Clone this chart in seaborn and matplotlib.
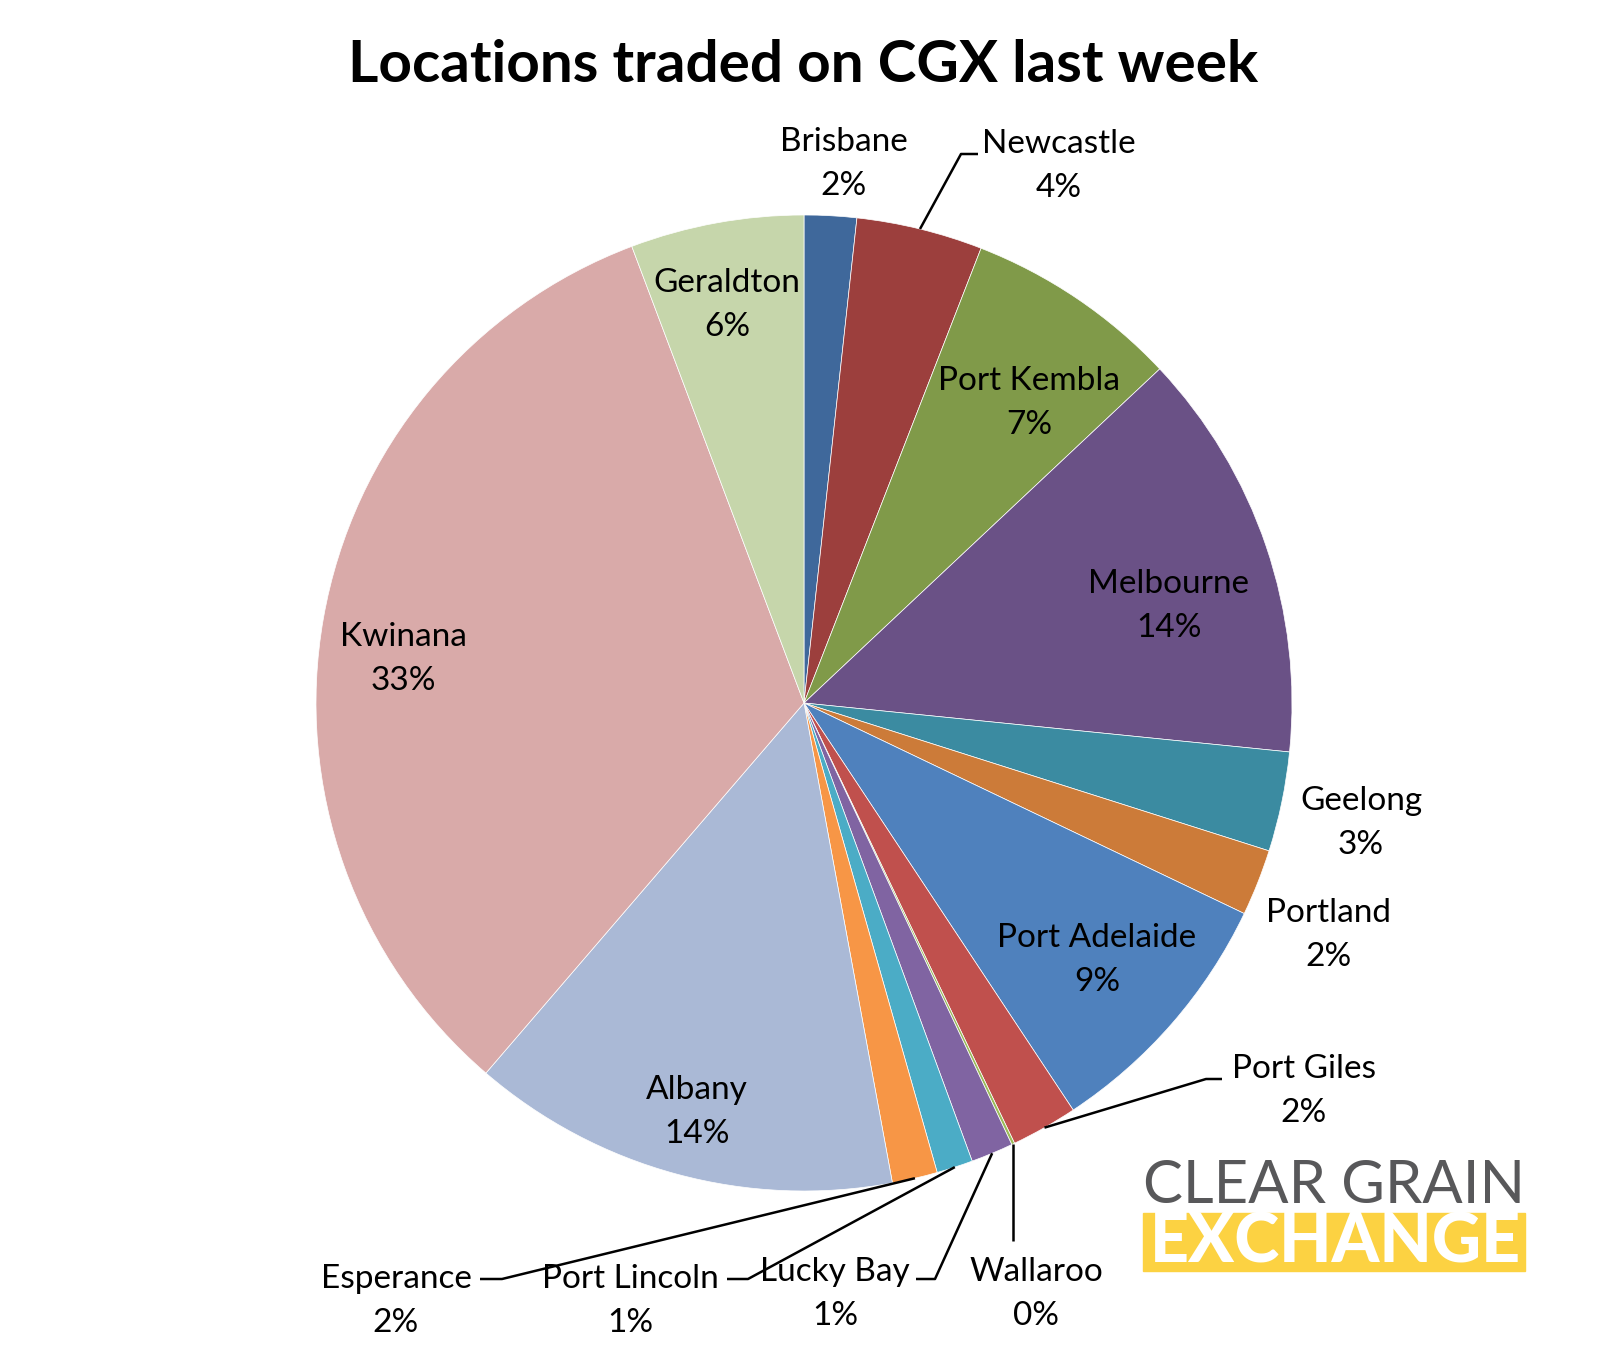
import matplotlib
matplotlib.use("Agg")
import numpy as np
import matplotlib.pyplot as plt
import seaborn as sns

# data (share of trades, %)
locations = ["Brisbane", "Newcastle", "Port Kembla", "Melbourne", "Geelong",
             "Portland", "Port Adelaide", "Port Giles", "Wallaroo", "Lucky Bay",
             "Port Lincoln", "Esperance", "Albany", "Kwinana", "Geraldton"]
shares = [1.73, 4.18, 7.09, 13.6, 3.3, 2.2, 8.6, 2.2, 0.1, 1.4, 1.2, 1.5, 14.2, 32.96, 5.74]
colors = ["#3F689B", "#9C3F3D", "#809A49", "#6A5186", "#3B8BA1", "#CC7B39",
          "#4F81BD", "#C0504D", "#9BBB59", "#8064A2", "#4BACC6", "#F79646",
          "#AAB9D6", "#D9AAA9", "#C6D6AB"]

# label centres in pixels (y down)
label_xy = [(844, 164), (1059, 166), (1029, 403), (1169, 606), (1361, 823),
            (1329, 935), (1097, 960), (1304, 1091), (1036, 1294), (835, 1294),
            (630, 1301), (396, 1301), (697, 1112), (403, 659), (727, 305)]
# leader line bends for the small slices
leaders = {"Newcastle": [(961, 154), (978, 154)],
           "Port Giles": [(1206, 1079), (1222, 1079)],
           "Wallaroo": [(1013, 1241)],
           "Lucky Bay": [(935, 1279), (916, 1279)],
           "Port Lincoln": [(748, 1279), (727, 1279)],
           "Esperance": [(502, 1279), (480, 1279)]}

sns.set_style("white")
plt.rcParams["font.family"] = ["Lato", "DejaVu Sans"]
plt.rcParams["text.color"] = "black"

W, H = 1608, 1351
fig = plt.figure(figsize=(W / 100, H / 100), dpi=100)
ax = fig.add_axes([0, 0, 1, 1])

cx, cy, R = 804, 703, 488
wedges, _ = ax.pie(shares, colors=colors, startangle=-90, counterclock=True,
                   center=(cx, cy), radius=R,
                   wedgeprops=dict(edgecolor="white", linewidth=0.5))
ax.set_xlim(0, W)
ax.set_ylim(H, 0)
ax.set_aspect("equal")
ax.axis("off")

total = sum(shares)
for w, name, v, (tx, ty) in zip(wedges, locations, shares, label_xy):
    ax.text(tx, ty, f"{name}\n{100 * v / total:.0f}%", ha="center", va="center",
            fontsize=24, linespacing=1.55, color="black")
    if name in leaders:
        mid = np.deg2rad((w.theta1 + w.theta2) / 2)
        pts = [(cx + R * np.cos(mid), cy + R * np.sin(mid))] + leaders[name]
        if name == "Wallaroo":
            pts[1] = (pts[0][0], pts[1][1])
        xs, ys = zip(*pts)
        ax.plot(xs, ys, color="black", lw=1.8, solid_capstyle="butt")

ax.text(803, 66, "Locations traded on CGX last week", ha="center", va="center",
        fontsize=42, fontweight="bold", color="black")

# logo
ax.text(1334, 1186, "CLEAR GRAIN", ha="center", va="center", fontsize=43,
        fontweight="normal", color="#58585A")
ax.add_patch(plt.Rectangle((1143, 1213), 382, 58, color="#FCD242", zorder=3))
ax.text(1335, 1243, "EXCHANGE", ha="center", va="center", fontsize=49,
        fontweight="black", color="white", zorder=4)

fig.savefig("out.png", dpi=100)
